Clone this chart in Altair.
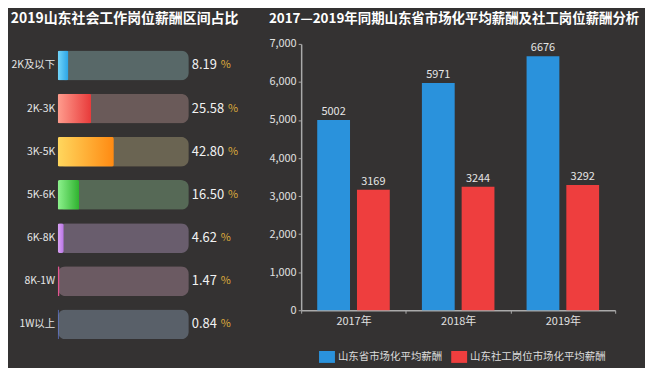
import altair as alt
import pandas as pd

# ---------------- data ----------------
categories = ["2K及以下", "2K-3K", "3K-5K", "5K-6K", "6K-8K", "8K-1W", "1W以上"]
shares = [8.19, 25.58, 42.80, 16.50, 4.62, 1.47, 0.84]

years = ["2017年", "2018年", "2019年"]
market_pay = [5002, 5971, 6676]
social_pay = [3169, 3244, 3292]
series_names = ["山东省市场化平均薪酬", "山东社工岗位市场化平均薪酬"]

left_title = "2019山东社会工作岗位薪酬区间占比"
right_title = "2017—2019年同期山东省市场化平均薪酬及社工岗位薪酬分析"

# ---------------- styles ----------------
BG = "#343232"
FONT = "Noto Sans CJK SC"
track_colors = ["#586868", "#6a5a59", "#6a6452", "#566956", "#695d6d", "#6b5a62", "#596069"]
bar_light = ["#74d6fa", "#ff9d8e", "#ffd75e", "#8ef28e", "#dba4f5", "#e8609a", "#7a90ea"]
bar_dark = ["#2aa4e6", "#e83a3a", "#ff8a12", "#2eb22e", "#b774e4", "#d84684", "#5a74dc"]
pay_colors = ["#2a92dc", "#ee3e3e"]

LEFT_W = 185
TRACK_PX = 132
x_max = 100 * LEFT_W / TRACK_PX
px_per_unit = TRACK_PX / 100.0

# ---------------- left panel ----------------
share_df = pd.DataFrame({
    "cat": categories,
    "share": shares,
    "full": [100] * len(categories),
    "label": [f"{v:.2f}" for v in shares],
})

xs = alt.Scale(domain=[0, x_max], nice=False, zero=True)
ys = alt.Scale(domain=categories, paddingInner=0, paddingOuter=0)

lbase = alt.Chart(share_df).encode(
    y=alt.Y("cat:N", sort=categories, scale=ys,
            axis=alt.Axis(title=None, ticks=False, domain=False, labelColor="#e6e6e6",
                          labelFontSize=10.5, labelFont=FONT, labelPadding=3,
                          minExtent=46, maxExtent=46))
)

track = lbase.mark_bar(height=30, cornerRadius=8).encode(
    x=alt.X("full:Q", scale=xs, axis=None),
    color=alt.Color("cat:N", scale=alt.Scale(domain=categories, range=track_colors), legend=None),
)

fills = []
for c, lo, hi in zip(categories, bar_light, bar_dark):
    grad = alt.Gradient(
        gradient="linear",
        stops=[alt.GradientStop(color=lo, offset=0), alt.GradientStop(color=hi, offset=1)],
        x1=0, x2=1, y1=0, y2=0,
    )
    fills.append(
        lbase.transform_filter(alt.datum.cat == c)
        .mark_bar(height=30, cornerRadius=2, color=grad)
        .encode(x=alt.X("share:Q", scale=xs, axis=None))
    )

num_text = lbase.mark_text(align="left", dx=3, fontSize=13, font=FONT, color="#f2f2f2").encode(
    x=alt.X("full:Q", scale=xs, axis=None),
    text="label:N",
)

pct_text = lbase.transform_calculate(
    px=f"100 + (7 + (length(datum.label) - 1) * 7.2 + 3.5) / {px_per_unit}"
).mark_text(align="left", fontSize=11, font=FONT, color="#dcaa3c").encode(
    x=alt.X("px:Q", scale=xs, axis=None),
    text=alt.value("%"),
)

left = alt.layer(track, *fills, num_text, pct_text).properties(
    width=LEFT_W, height=304,
    title=alt.Title(left_title, anchor="start", offset=18.5, fontSize=14),
)

# ---------------- right panel ----------------
pay_df = pd.DataFrame({
    "year": years * 2,
    "series": [series_names[0]] * len(years) + [series_names[1]] * len(years),
    "pay": market_pay + social_pay,
})

rbase = alt.Chart(pay_df).encode(
    x=alt.X("year:N", sort=years, scale=alt.Scale(paddingInner=0, paddingOuter=0),
            axis=alt.Axis(title=None, labelAngle=0, tickBand="extent", tickSize=3,
                          tickColor="#aaaaaa", domainColor="#aaaaaa", domainWidth=1.5,
                          labelColor="#e0e0e0", labelFontSize=11, labelFont=FONT, labelPadding=2)),
    xOffset=alt.XOffset("series:N", sort=series_names,
                        scale=alt.Scale(domain=series_names, paddingInner=0.175, paddingOuter=0.404)),
    y=alt.Y("pay:Q", scale=alt.Scale(domain=[0, 7000], nice=False),
            axis=alt.Axis(title=None, values=list(range(0, 7001, 1000)), format=",d", grid=False,
                          tickSize=3, tickColor="#aaaaaa", domainColor="#aaaaaa", domainWidth=1.5,
                          labelColor="#e0e0e0", labelFontSize=11, labelFont=FONT, labelPadding=2,
                          minExtent=32, maxExtent=32)),
)

bars = rbase.mark_bar().encode(
    color=alt.Color("series:N", sort=series_names,
                    scale=alt.Scale(domain=series_names, range=pay_colors),
                    legend=alt.Legend(title=None, orient="none", legendX=18, legendY=307,
                                      direction="horizontal",
                                      symbolType="M-1,-0.75H1V0.75H-1Z", symbolSize=256,
                                      symbolStrokeWidth=0, symbolOpacity=1, labelColor="#dddddd",
                                      labelFontSize=10.5, labelFont=FONT,
                                      columnPadding=9, labelOffset=3)),
)

bar_labels = rbase.mark_text(baseline="bottom", dy=-3, fontSize=11, font=FONT, color="#e6e6e6").encode(
    text="pay:Q",
)

right = alt.layer(bars, bar_labels).properties(
    width=316, height=268,
    title=alt.Title(right_title, anchor="start", offset=12.5, fontSize=13.5),
)

chart = alt.hconcat(left, right, spacing=27).resolve_scale(
    color="independent"
).properties(
    background=BG, padding={"top": 2, "left": 2, "right": 5, "bottom": 4},
).configure_view(stroke=None).configure_title(
    color="#ffffff", font=FONT, fontWeight="bold",
)

chart.save("out.html", embed_options={"renderer": "svg", "actions": False})
